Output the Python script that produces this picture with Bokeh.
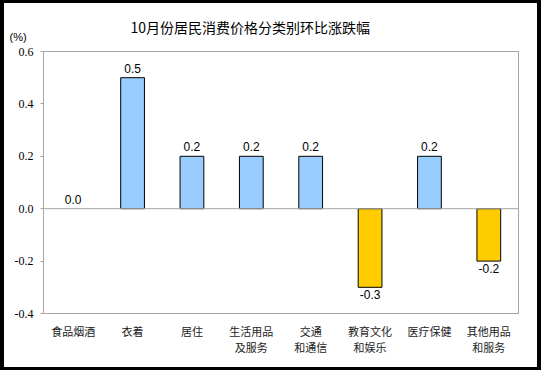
from bokeh.plotting import figure
from bokeh.models import (ColumnDataSource, FactorRange, Span, Label, FixedTicker, CustomJSTickFormatter,
                          LabelSet, CategoricalAxis)
from bokeh.core.properties import value
from bokeh.embed import file_html
from bokeh.resources import INLINE

categories = ["食品烟酒", "衣着", "居住", "生活用品及服务", "交通和通信", "教育文化和娱乐", "医疗保健", "其他用品和服务"]
label_line1 = ["食品烟酒", "衣着", "居住", "生活用品", "交通", "教育文化", "医疗保健", "其他用品"]
label_line2 = ["", "", "", "及服务", "和通信", "和娱乐", "", "和服务"]
values = [0.0, 0.5, 0.2, 0.2, 0.2, -0.3, 0.2, -0.2]
value_text = ["0.0", "0.5", "0.2", "0.2", "0.2", "-0.3", "0.2", "-0.2"]
title_text = "10月份居民消费价格分类别环比涨跌幅"
unit_text = "(%)"
y_ticks = [-0.4, -0.2, 0.0, 0.2, 0.4, 0.6]

colors = ["#99CCFF" if v >= 0 else "#FFCC00" for v in values]
outline = ["black" if v != 0 else "rgba(0,0,0,0)" for v in values]
pos_text = [t if v >= 0 else "" for t, v in zip(value_text, values)]
neg_text = [t if v < 0 else "" for t, v in zip(value_text, values)]

src = ColumnDataSource(dict(x=categories, top=values, color=colors, outline=outline, pos=pos_text, neg=neg_text))

p = figure(width=541, height=370, x_range=FactorRange(*categories), y_range=(-0.4, 0.6),
           output_backend="svg", toolbar_location=None, title=None,
           min_border_left=39, min_border_right=27, min_border_top=48, min_border_bottom=60)
p.styles = {"border-style": "solid", "border-color": "black", "border-width": "3px 4px 3px 4px"}
p.background_fill_color = "white"
p.border_fill_color = "white"
p.outline_line_color = "#A6A6A6"
p.grid.visible = False

p.vbar(x="x", top="top", bottom=0, width=0.4, fill_color="color", line_color="outline", line_width=1, source=src)
p.add_layout(Span(location=0, dimension="width", line_color="#A6A6A6", line_width=1))

p.add_layout(LabelSet(x="x", y="top", text="pos", source=src, text_align="center", text_baseline="bottom",
                      y_offset=5, text_font=value("Liberation Sans"), text_font_size=value("12px"), text_color="black"))
p.add_layout(LabelSet(x="x", y="top", text="neg", source=src, text_align="center", text_baseline="top",
                      y_offset=-3, text_font=value("Liberation Sans"), text_font_size=value("12px"), text_color="black"))

ya = p.yaxis[0]
ya.ticker = FixedTicker(ticks=y_ticks)
ya.formatter = CustomJSTickFormatter(code="return tick.toFixed(1);")
ya.major_label_text_font = "Liberation Serif"
ya.major_label_text_font_size = "12px"
ya.major_label_text_color = "black"
ya.axis_line_color = "#A6A6A6"
ya.major_tick_line_color = "#A6A6A6"
ya.major_tick_in = 0
ya.major_tick_out = 3
ya.minor_tick_line_color = None
ya.major_label_standoff = 7


def style_cat_axis(ax, standoff, lines):
    ax.formatter = CustomJSTickFormatter(args=dict(m=dict(zip(categories, lines))),
                                         code="return m[tick];")
    ax.major_tick_line_color = None
    ax.major_tick_in = 0
    ax.major_tick_out = 0
    ax.major_label_standoff = standoff
    ax.major_label_text_font = "Noto Sans CJK SC"
    ax.major_label_text_font_size = "11px"
    ax.major_label_text_color = "#222222"
    ax.major_label_orientation = "horizontal"


xa = p.xaxis[0]
xa.axis_line_color = "#A6A6A6"
style_cat_axis(xa, 9, label_line1)

xa2 = CategoricalAxis()
xa2.axis_line_color = None
style_cat_axis(xa2, -3, label_line2)
p.add_layout(xa2, "below")

unit = Label(x=-34, y=15, x_units="screen", y_units="screen", text=unit_text,
             text_font="Liberation Sans", text_font_size="11px", text_color="black", text_baseline="middle")
title = Label(x=87, y=13, x_units="screen", y_units="screen", text=title_text,
              text_font="Noto Sans CJK SC", text_font_size="14px", text_color="black", text_baseline="middle")
p.add_layout(unit, "above")
p.add_layout(title, "above")

open("out.html", "w").write(file_html(p, INLINE))
